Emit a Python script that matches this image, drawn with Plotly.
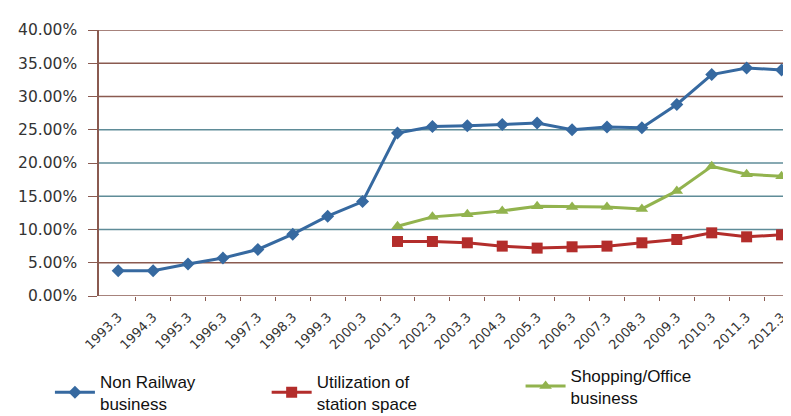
import plotly.graph_objects as go

categories = ["1993.3", "1994.3", "1995.3", "1996.3", "1997.3", "1998.3", "1999.3", "2000.3",
              "2001.3", "2002.3", "2003.3", "2004.3", "2005.3", "2006.3", "2007.3", "2008.3",
              "2009.3", "2010.3", "2011.3", "2012.3"]
non_railway = [3.8, 3.8, 4.8, 5.7, 7.0, 9.3, 12.0, 14.2, 24.5, 25.5, 25.6, 25.8, 26.0, 25.0,
               25.4, 25.3, 28.8, 33.3, 34.3, 34.0]
utilization = [None] * 8 + [8.2, 8.2, 8.0, 7.5, 7.2, 7.4, 7.5, 8.0, 8.5, 9.5, 8.9, 9.2]
shopping = [None] * 8 + [10.5, 11.9, 12.3, 12.8, 13.5, 13.4, 13.4, 13.1, 15.8, 19.5, 18.3, 18.0]
y_ticks = [0, 5, 10, 15, 20, 25, 30, 35, 40]
grid_colors = ["#8a5a50", "#8a5a50", "#5f8c98", "#5f8c98", "#5f8c98", "#5f8c98",
               "#8a5a50", "#8a5a50", "#8a5a50"]

idx = list(range(len(categories)))

fig = go.Figure()
fig.add_trace(go.Scatter(x=idx, y=non_railway, mode="lines+markers", name="Non Railway<br>business",
                         line=dict(color="#3669a0", width=3),
                         marker=dict(symbol="diamond", size=10, color="#3669a0"), legend="legend"))
fig.add_trace(go.Scatter(x=idx, y=utilization, mode="lines+markers", name="Utilization of<br>station space",
                         line=dict(color="#b32d2b", width=3),
                         marker=dict(symbol="square", size=11, color="#b32d2b"), legend="legend2"))
fig.add_trace(go.Scatter(x=idx, y=shopping, mode="lines+markers", name="Shopping/Office<br>business",
                         line=dict(color="#92b34e", width=3),
                         marker=dict(symbol="triangle-up", size=11, color="#92b34e"), legend="legend3"))

for v, c in zip(y_ticks, grid_colors):
    fig.add_shape(type="line", xref="paper", x0=0, x1=1, yref="y", y0=v, y1=v,
                  line=dict(color=c, width=1.5), layer="below")

legend_font = dict(family="Liberation Sans, Arial", size=17, color="#111")
common = dict(bgcolor="white", font=legend_font, xanchor="left", yanchor="top",
              xref="container", yref="container", itemwidth=40, tracegroupgap=0)
fig.update_layout(
    width=791, height=416,
    margin=dict(l=91, r=0, t=22, b=128, autoexpand=False),
    paper_bgcolor="white", plot_bgcolor="white",
    showlegend=True,
    legend=dict(x=0.053, y=0.145, **common),
    legend2=dict(x=0.327, y=0.145, **common),
    legend3=dict(x=0.648, y=0.16, **common),
    xaxis=dict(range=[-0.55, 19.5], tickmode="array", tickvals=idx, ticktext=categories,
               tickangle=-45, tickfont=dict(family="DejaVu Sans", size=13, color="#333"),
               showgrid=False, zeroline=False, showline=False, ticks="", automargin=False,
               ticklabelstandoff=10,
               minor=dict(tickvals=[i + 0.5 for i in idx], ticks="outside", ticklen=4, tickcolor="#8a5a50")),
    yaxis=dict(range=[0, 40], tickvals=y_ticks, ticktext=[f"{v:.2f}%" for v in y_ticks],
               tickfont=dict(family="DejaVu Sans", size=15.5, color="#333"), automargin=False,
               showgrid=False, zeroline=False, showline=True, linecolor="#8a5a50", linewidth=1.5,
               ticks="outside", ticklen=9, tickcolor="#8a5a50", ticklabelstandoff=8),
)

fig.write_html("out.html")
